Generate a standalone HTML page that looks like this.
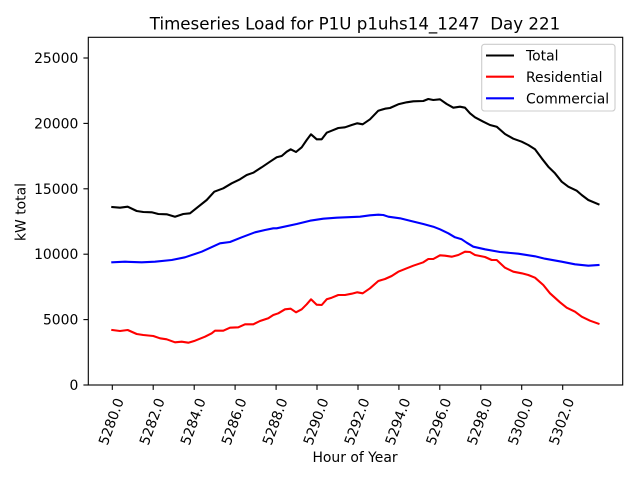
<!DOCTYPE html>
<html>
<head>
<meta charset="utf-8">
<style>
html,body{margin:0;padding:0;background:#fff;}
svg{display:block;}
text{font-family:"DejaVu Sans","Liberation Sans",sans-serif;fill:#000;}
</style>
</head>
<body>
<svg width="640" height="480" viewBox="0 0 640 480" xmlns="http://www.w3.org/2000/svg">
<rect x="0" y="0" width="640" height="480" fill="#fff"/>
<!-- title -->
<text x="355" y="29.5" font-size="16.67" text-anchor="middle" xml:space="preserve">Timeseries Load for P1U p1uhs14_1247  Day 221</text>

<!-- series -->
<g fill="none" stroke-width="2.08" stroke-linejoin="round" stroke-linecap="square">
<polyline stroke="#000000" points="112.3,207 120,207.7 127.7,206.7 136.7,211 143.3,212 151.7,212.3 158.3,214 166.7,214.3 175,216.7 183.3,214 190,213.3 198.3,206.7 206.7,200 214.3,191.7 223.3,188.3 231.7,183.3 240,179.3 246.7,175 253.3,172.7 261.7,167.3 270,161.7 276.7,157.3 281.7,156 286.7,151.7 290.7,149.3 296,152 301.7,147.3 306.7,140 311,134.3 316.7,139.3 321.7,139.3 326.7,132.7 331.7,130.7 338.3,128 345,127.3 351.7,125 357.3,123.3 362.7,124.3 370,119.3 378.3,110.7 385,108.7 390,108 398.3,104.3 406.7,102.3 413.3,101.3 423.3,101 428.3,99 433.3,100 440,99.3 446.7,104 453.3,107.7 460,106.7 465,107.7 470,113.3 475,117.3 483.3,121.7 490,125 496.7,126.7 505,134 513.3,138.7 521.7,141.7 528.3,145 535,149.3 541.7,158.3 548.3,166.7 555,173.3 561.7,181.7 568.3,186.7 576.7,190.7 581.7,195 588.3,200 598.5,204.3"/>
<polyline stroke="#ff0000" points="112.3,330 120,331 127.7,330 136.7,334 143.3,335 153.3,336 160,338.3 166.7,339.3 175,342.3 181.7,341.7 188.3,342.7 195,340.7 205,336.7 211.7,333.3 215,330.7 223.3,330.7 230,327.7 238.3,327.3 245,324.3 253.3,324.3 260,321 268.3,318.3 273.3,315 278.3,313.3 285,309.3 290.7,308.7 296,312.3 301.7,309.3 306.7,304.3 311,299.3 316.7,304.7 321.7,305 326.7,299.3 331.7,297.7 338.3,295 345,295 351.7,293.7 357.3,292.3 362.7,293.3 370,288.3 378.3,281 385,279 391.7,276 398.3,271.7 406.7,268.3 413.3,265.7 423.3,262.3 428.3,259 433.3,259 440,255.3 445,255.7 451.7,256.7 458.3,255 465,251.7 470,252 475,255 485,257 491.7,260 496.7,260 505,267.7 513.3,271.7 521.7,273.3 528.3,275 535,277.7 543.3,285 550,293.3 560,302.3 566.7,307.7 575,311.7 581.7,316.7 590,320.7 598.5,323.7"/>
<polyline stroke="#0000ff" points="112.3,262.3 125,261.7 141.7,262.3 155,261.7 171.7,260 185,257.3 201.7,251.7 220,243.3 230,242 241.7,237.3 255,232.3 265,230 273.3,228.3 276.7,228.3 296.7,224 310,220.7 323.3,218.7 336.7,217.7 360,216.7 370,215.3 378.3,214.7 383.3,215 388.3,216.7 400,218.3 410,220.7 423.3,224 433.3,226.7 440,229.3 448.3,233.3 455,237.3 461.7,239.3 466.7,242.7 473.3,246.7 485,249.3 500,252 518.3,253.7 535,256.3 545,258.7 561.7,261.7 575,264.3 588.3,265.7 598.5,265"/>
</g>

<!-- axes frame -->
<rect x="88.3" y="37.3" width="534.4" height="347.7" fill="none" stroke="#000" stroke-width="1.1"/>

<!-- y ticks -->
<g stroke="#000" stroke-width="1.1">
<line x1="83.4" y1="385" x2="88.3" y2="385"/>
<line x1="83.4" y1="319.6" x2="88.3" y2="319.6"/>
<line x1="83.4" y1="254.2" x2="88.3" y2="254.2"/>
<line x1="83.4" y1="188.8" x2="88.3" y2="188.8"/>
<line x1="83.4" y1="123.4" x2="88.3" y2="123.4"/>
<line x1="83.4" y1="58" x2="88.3" y2="58"/>
</g>
<g font-size="13.9" text-anchor="end">
<text x="78.3" y="390">0</text>
<text x="78.3" y="324.6">5000</text>
<text x="78.3" y="259.2">10000</text>
<text x="78.3" y="193.8">15000</text>
<text x="78.3" y="128.4">20000</text>
<text x="78.3" y="63">25000</text>
</g>

<!-- x ticks -->
<g stroke="#000" stroke-width="1.1">
<line x1="112.3" y1="385" x2="112.3" y2="389.9"/>
<line x1="153.2" y1="385" x2="153.2" y2="389.9"/>
<line x1="194.2" y1="385" x2="194.2" y2="389.9"/>
<line x1="235.1" y1="385" x2="235.1" y2="389.9"/>
<line x1="276.1" y1="385" x2="276.1" y2="389.9"/>
<line x1="317.0" y1="385" x2="317.0" y2="389.9"/>
<line x1="358.0" y1="385" x2="358.0" y2="389.9"/>
<line x1="398.9" y1="385" x2="398.9" y2="389.9"/>
<line x1="439.8" y1="385" x2="439.8" y2="389.9"/>
<line x1="480.8" y1="385" x2="480.8" y2="389.9"/>
<line x1="521.7" y1="385" x2="521.7" y2="389.9"/>
<line x1="562.7" y1="385" x2="562.7" y2="389.9"/>
</g>
<g font-size="13.9" text-anchor="middle">
<text transform="translate(111,421.5) rotate(-70)" dy="5">5280.0</text>
<text transform="translate(151.9,421.5) rotate(-70)" dy="5">5282.0</text>
<text transform="translate(192.9,421.5) rotate(-70)" dy="5">5284.0</text>
<text transform="translate(233.8,421.5) rotate(-70)" dy="5">5286.0</text>
<text transform="translate(274.8,421.5) rotate(-70)" dy="5">5288.0</text>
<text transform="translate(315.7,421.5) rotate(-70)" dy="5">5290.0</text>
<text transform="translate(356.7,421.5) rotate(-70)" dy="5">5292.0</text>
<text transform="translate(397.6,421.5) rotate(-70)" dy="5">5294.0</text>
<text transform="translate(438.5,421.5) rotate(-70)" dy="5">5296.0</text>
<text transform="translate(479.5,421.5) rotate(-70)" dy="5">5298.0</text>
<text transform="translate(520.4,421.5) rotate(-70)" dy="5">5300.0</text>
<text transform="translate(561.4,421.5) rotate(-70)" dy="5">5302.0</text>
</g>

<!-- axis labels -->
<text x="355" y="462" font-size="13.9" text-anchor="middle">Hour of Year</text>
<text transform="translate(25.5,212) rotate(-90)" font-size="13.9" text-anchor="middle">kW total</text>

<!-- legend -->
<rect x="481.7" y="44.3" width="133.3" height="66.7" rx="2.8" ry="2.8" fill="#fff" fill-opacity="0.8" stroke="#cccccc" stroke-width="1.1"/>
<g stroke-width="2.08">
<line x1="486" y1="55.5" x2="514" y2="55.5" stroke="#000"/>
<line x1="486" y1="76.7" x2="514" y2="76.7" stroke="#ff0000"/>
<line x1="486" y1="98.3" x2="514" y2="98.3" stroke="#0000ff"/>
</g>
<g font-size="13.9">
<text x="526" y="60.6">Total</text>
<text x="526" y="81.8">Residential</text>
<text x="526" y="103.4">Commercial</text>
</g>
</svg>
</body>
</html>
